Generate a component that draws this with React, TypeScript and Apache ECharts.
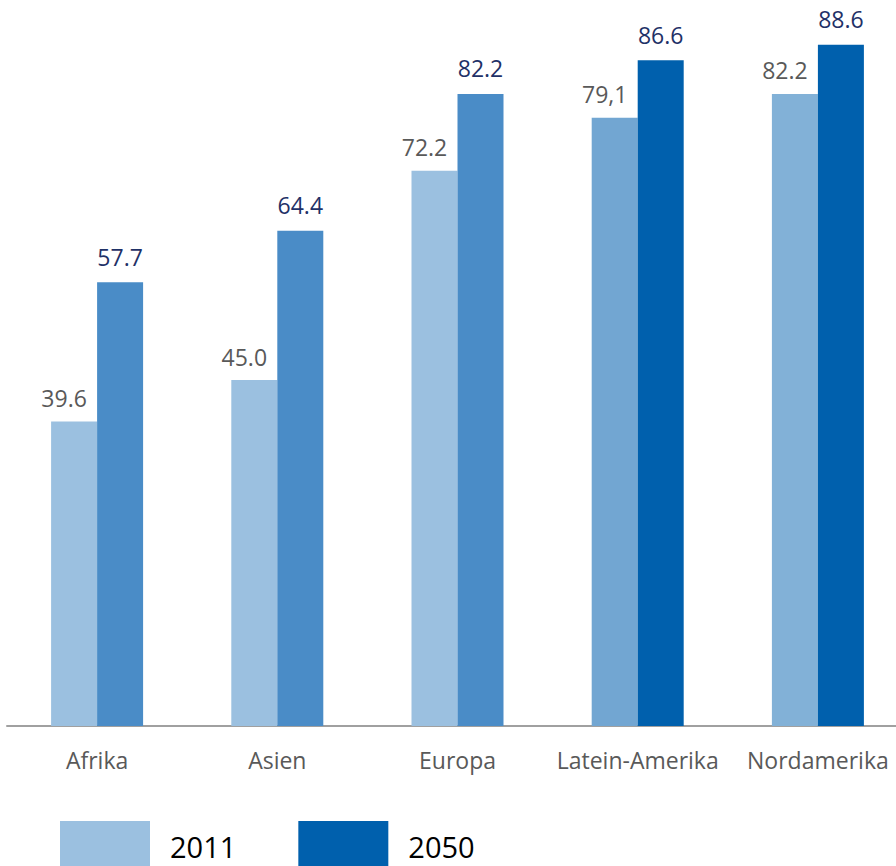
import React, { useEffect, useRef } from "react";
import * as echarts from "echarts";

const categories = ["Afrika", "Asien", "Europa", "Latein-Amerika", "Nordamerika"];
const values2011 = [39.6, 45.0, 72.2, 79.1, 82.2];
const labels2011 = ["39.6", "45.0", "72.2", "79,1", "82.2"];
const values2050 = [57.7, 64.4, 82.2, 86.6, 88.6];
const labels2050 = ["57.7", "64.4", "82.2", "86.6", "88.6"];
const colors2011 = ["#9BC0E0", "#9BC0E0", "#9BC0E0", "#72A6D2", "#82B1D7"];
const colors2050 = ["#4A8CC7", "#4A8CC7", "#4A8CC7", "#0060AD", "#0060AD"];
const seriesNames = ["2011", "2050"];

const FONT = "'Open Sans', 'Noto Sans', sans-serif";

export default function App() {
  const ref = useRef<HTMLDivElement>(null);
  useEffect(() => {
    if (!ref.current) return;
    const chart = echarts.init(ref.current, null, { renderer: "svg" });
    chart.setOption({
      animation: false,
      grid: { left: 7, top: 34, width: 901, bottom: 140, containLabel: false },
      legend: {
        data: seriesNames,
        left: 55,
        top: 816,
        itemWidth: 90,
        itemHeight: 50,
        itemGap: 62,
        icon: "rect",
        textStyle: {
          fontFamily: FONT,
          fontSize: 29,
          color: "#000000",
          padding: [0, 0, 0, 15],
        },
      },
      xAxis: {
        type: "category",
        data: categories,
        axisLine: { lineStyle: { color: "#A0A0A0", width: 2 } },
        axisTick: { show: false },
        axisLabel: {
          interval: 0,
          color: "#595959",
          fontFamily: FONT,
          fontSize: 23,
          margin: 22,
        },
      },
      yAxis: {
        type: "value",
        min: 0,
        max: 90,
        show: false,
        splitLine: { show: false },
      },
      series: [
        {
          name: "2011",
          type: "bar",
          barWidth: 46,
          barGap: "0%",
          itemStyle: { color: colors2011[0] },
          data: values2011.map((v, i) => ({
            value: v,
            itemStyle: { color: colors2011[i] },
          })),
          label: {
            show: true,
            position: "top",
            distance: 12,
            offset: [-10, 0],
            color: "#595959",
            fontFamily: FONT,
            fontSize: 23,
            formatter: (p: any) => labels2011[p.dataIndex],
          },
        },
        {
          name: "2050",
          type: "bar",
          barWidth: 46,
          barGap: "0%",
          itemStyle: { color: "#0060AD" },
          data: values2050.map((v, i) => ({
            value: v,
            itemStyle: { color: colors2050[i] },
          })),
          label: {
            show: true,
            position: "top",
            distance: 14,
            color: "#1F3167",
            fontFamily: FONT,
            fontSize: 23,
            formatter: (p: any) => labels2050[p.dataIndex],
          },
        },
      ],
    });
    return () => chart.dispose();
  }, []);
  return (
    <div style={{ width: 896, height: 866, position: "absolute", left: 0, top: 0, overflow: "hidden" }}>
      <div ref={ref} style={{ width: 912, height: 866 }} />
    </div>
  );
}
